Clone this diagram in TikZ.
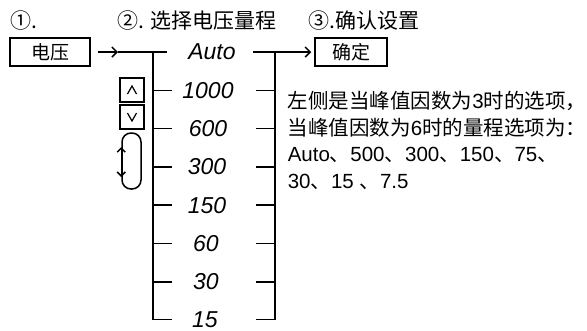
\documentclass[tikz,border=0pt]{standalone}
\usepackage{fontspec}
\setmainfont{Liberation Sans}
\newfontfamily\zhfont{Noto Sans CJK SC}
\usetikzlibrary{arrows.meta}
\newcommand{\zh}[1]{{\zhfont #1}}

\begin{document}
\begin{tikzpicture}[x=1pt,y=-1pt,line width=1.5pt,
    >={Straight Barb[length=5pt,width=10pt]},
    keybox/.style={draw,inner sep=0pt,minimum height=28pt,font=\zhfont\fontsize{19}{19}\selectfont},
    lcd/.style={inner sep=0pt,font=\itshape\fontsize{23}{23}\selectfont},
    head/.style={anchor=base west,inner sep=0pt,font=\zhfont\fontsize{21}{21}\selectfont},
    note/.style={anchor=base west,inner sep=0pt,font=\fontsize{20.5}{20.5}\selectfont},
    btn/.style={draw,inner sep=0pt,minimum size=24pt}]
\useasboundingbox (0,0) rectangle (587,330);
% step headings
\node[head] (st1) at (10,28) {①.};
\node[head] (st2) at (117,28) {②. 选择电压量程};
\node[head] (st3) at (308,28) {③.确认设置};
% keys
\node[keybox,minimum width=80pt] (volt) at (50,52) {电压};
\node[keybox,minimum width=72pt] (ok) at (351,52) {确定};
% range list
\node[lcd] (rAuto) at (212,52) {Auto};
\node[lcd] (r1000) at (208,90.3) {1000};
\node[lcd] (r600) at (208,128.6) {600};
\node[lcd] (r300) at (207,166.9) {300};
\node[lcd] (r150) at (207,205.2) {150};
\node[lcd] (r60) at (206,243.5) {60};
\node[lcd] (r30) at (206,281.8) {30};
\node[lcd] (r15) at (205,319.5) {15};
\coordinate (lbar) at (153,52);
\coordinate (rbar) at (275,52);
\coordinate (tipL) at (118,52);
\coordinate (endL) at (167,52);
\coordinate (begR) at (253,52);
\draw[->] ([xshift=7pt]volt.east) -- (tipL);
\draw (tipL) -- (endL);
\draw[->] (begR) -- ([xshift=-3pt]ok.west);
\draw (lbar) -- (lbar |- r15) -- ++(19,0);
\draw (rbar) -- (rbar |- r15) -- ++(-19,0);
\draw (lbar |- r1000) -- ++(19,0);
\draw (lbar |- r600) -- ++(19,0);
\draw (lbar |- r300) -- ++(19,0);
\draw (lbar |- r150) -- ++(19,0);
\draw (lbar |- r60) -- ++(19,0);
\draw (lbar |- r30) -- ++(19,0);
\draw (rbar |- r1000) -- ++(-19,0);
\draw (rbar |- r600) -- ++(-19,0);
\draw (rbar |- r300) -- ++(-19,0);
\draw (rbar |- r150) -- ++(-19,0);
\draw (rbar |- r60) -- ++(-19,0);
\draw (rbar |- r30) -- ++(-19,0);
% buttons
\node[btn] (up) at (132,90) {};
\node[btn] (down) at (132,117) {};
\draw[line width=1.2pt] ([shift={(-4.5,4)}]up.center) -- ([shift={(0,-4)}]up.center) -- ([shift={(4.5,4)}]up.center);
\draw[line width=1.2pt] ([shift={(-4.5,-4)}]down.center) -- ([shift={(0,4)}]down.center) -- ([shift={(4.5,-4)}]down.center);
\node[draw,rounded corners=9pt,minimum width=19pt,minimum height=56pt,inner sep=0pt] (cycle) at (131.5,161) {};
\draw[<->,>={Straight Barb[length=4pt,width=8pt]}] ([yshift=14pt]cycle.west) -- ([yshift=-16pt]cycle.west);
% note
\node[note] (n1) at (287,108.5) {\zh{左侧是当峰值因数为}3\zh{时的选项，}};
\node[note] (n2) at (287,135) {\zh{当峰值因数为}6\zh{时的量程选项为：}};
\node[note] (n3) at (287,161.5) {Auto\zh{、}500\zh{、}300\zh{、}150\zh{、}75\zh{、}};
\node[note] (n4) at (287,188) {30\zh{、}15 \zh{、}7.5};
\end{tikzpicture}
\end{document}
